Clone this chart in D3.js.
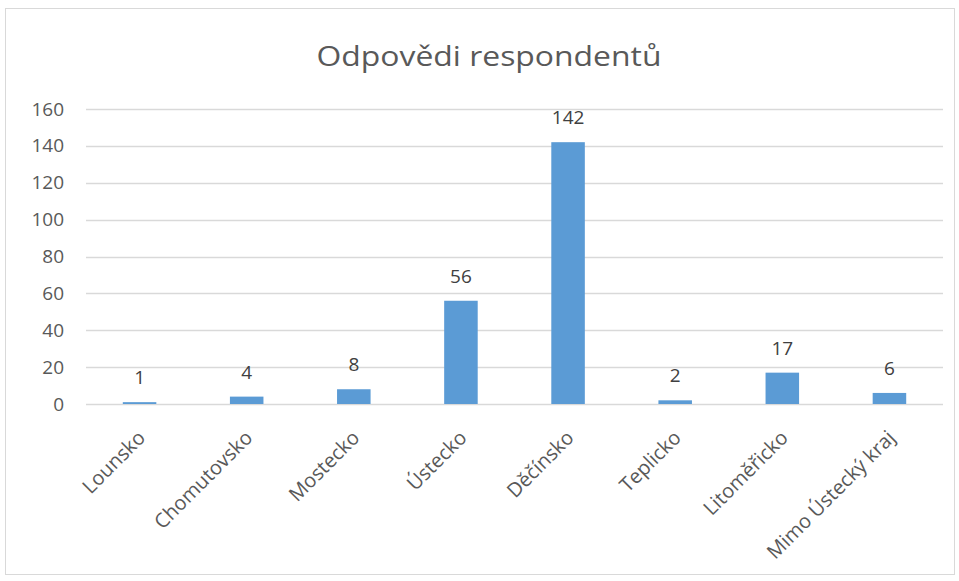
<!DOCTYPE html>
<html>
<head>
<meta charset="utf-8">
<script src="https://cdn.jsdelivr.net/npm/d3@7"></script>
<style>
  html, body { margin: 0; padding: 0; background: #fff; }
  svg { display: block; font-family: "Open Sans", "Noto Sans", sans-serif; }
</style>
</head>
<body>
<svg id="chart" width="959" height="581"></svg>
<script>
// Survey responses by district
const categories = ["Lounsko", "Chomutovsko", "Mostecko", "Ústecko", "Děčínsko", "Teplicko", "Litoměřicko", "Mimo Ústecký kraj"];
const responses = [1, 4, 8, 56, 142, 2, 17, 6];
const yTicks = [0, 20, 40, 60, 80, 100, 120, 140, 160];
const chartTitle = "Odpovědi respondentů";

const svg = d3.select("#chart");
const plot = { left: 86, right: 943, top: 109, bottom: 404 };
const fontStack = "'Open Sans', 'Noto Sans', sans-serif";

// outer chart frame
svg.append("rect")
  .attr("x", 5.5).attr("y", 8.5)
  .attr("width", 949).attr("height", 566)
  .attr("fill", "#fff").attr("stroke", "#d9d9d9").attr("stroke-width", 1);

svg.append("text")
  .attr("x", 489).attr("y", 66)
  .attr("text-anchor", "middle")
  .attr("font-size", 27)
  .attr("textLength", 345)
  .attr("lengthAdjust", "spacingAndGlyphs")
  .attr("fill", "#595959")
  .text(chartTitle);

const x = d3.scaleBand()
  .domain(categories)
  .range([plot.left, plot.right])
  .paddingInner(0.687)
  .paddingOuter(0.3435);

const y = d3.scaleLinear()
  .domain([0, 160])
  .range([plot.bottom, plot.top]);

// horizontal gridlines
svg.append("g")
  .selectAll("line")
  .data(yTicks)
  .join("line")
  .attr("x1", plot.left).attr("x2", plot.right)
  .attr("y1", d => Math.round(y(d)) + 0.5)
  .attr("y2", d => Math.round(y(d)) + 0.5)
  .attr("stroke", "#d9d9d9").attr("stroke-width", 1.3);

// y axis labels
const yAxis = d3.axisLeft(y).tickValues(yTicks).tickSize(0).tickPadding(0);
const gy = svg.append("g")
  .attr("transform", `translate(${plot.left - 22},0)`)
  .call(yAxis);
gy.select(".domain").remove();
gy.selectAll("text")
  .attr("font-size", 19)
  .attr("font-family", fontStack)
  .attr("fill", "#595959");

// bars
svg.append("g")
  .selectAll("rect")
  .data(categories)
  .join("rect")
  .attr("x", d => x(d))
  .attr("width", x.bandwidth())
  .attr("y", (d, i) => y(responses[i]))
  .attr("height", (d, i) => y(0) - y(responses[i]))
  .attr("fill", "#5b9bd5");

// value labels
svg.append("g")
  .selectAll("text")
  .data(categories)
  .join("text")
  .attr("x", d => x(d) + x.bandwidth() / 2)
  .attr("y", (d, i) => y(responses[i]) - 18)
  .attr("text-anchor", "middle")
  .attr("font-size", 19)
  .attr("fill", "#404040")
  .text((d, i) => responses[i]);

// rotated category labels
const xAxis = d3.axisBottom(x).tickSize(0).tickPadding(0);
const gx = svg.append("g")
  .attr("transform", `translate(0,${plot.bottom})`)
  .call(xAxis);
gx.select(".domain").remove();
gx.selectAll("text")
  .attr("font-size", 20)
  .attr("font-family", fontStack)
  .attr("fill", "#595959")
  .attr("text-anchor", "end")
  .attr("dy", null)
  .attr("y", 0)
  .attr("transform", "translate(7,35) rotate(-45)");
</script>
</body>
</html>
